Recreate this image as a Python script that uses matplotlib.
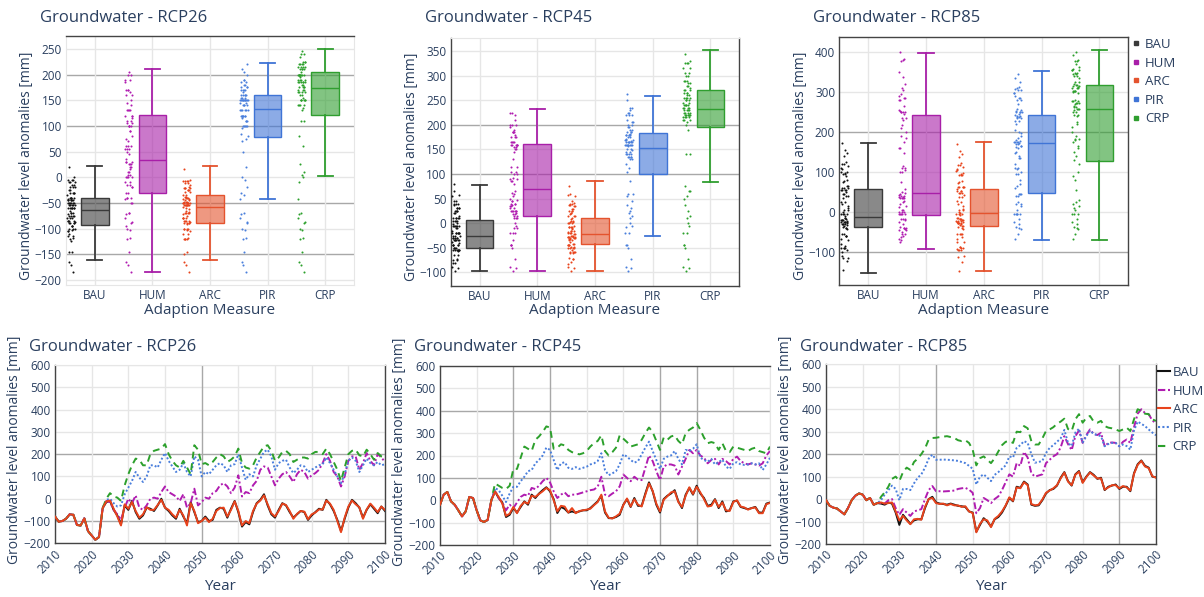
import numpy as np
import matplotlib
matplotlib.use('Agg')
import matplotlib.pyplot as plt
from matplotlib.lines import Line2D

plt.rcParams['font.family'] = ['Open Sans', 'DejaVu Sans']

# ----- data -----
YEARS = np.arange(2010, 2101)
MEASURES = ['BAU', 'HUM', 'ARC', 'PIR', 'CRP']

# 2010-2023, identical for every measure
COMMON26 = [-80, -103, -100, -90, -70, -72, -118, -120, -88, -145, -165, -184, -172, -42]
COMMON45 = [-20, 25, 37, -5, -20, -45, -72, -50, 15, 10, -45, -90, -97, -88]
COMMON85 = [-5, -30, -38, -42, -55, -68, -40, -5, 15, 25, 20, -5, 5, -25]

# 2024-2100
BAU26 = [-15, -10, -50, -75, -115, -30, -50, -10, -60, -90,
         -75, -40, -45, -55, -30, 0, -40, -55, -75, -90,
         -45, -80, -110, -15, -60, -105, -100, -80, -100, -95,
         -50, -40, -45, -85, -45, -10, -60, -125, -105, -115,
         -60, -20, -5, 20, -30, -70, -85, -50, -20, -30,
         -60, -85, -70, -55, -60, -95, -75, -60, -45, -50,
         -5, -25, -55, -95, -145, -90, -40, -5, -20, -40,
         -85, -50, -25, -45, -65, -35, -55]
ARC26 = [-12, -8, -45, -80, -120, -25, -45, -15, -55, -85,
         -70, -38, -50, -50, -28, -5, -40, -50, -70, -85,
         -50, -75, -120, -20, -55, -110, -100, -85, -105, -90,
         -55, -42, -40, -80, -50, -12, -55, -120, -100, -110,
         -55, -22, -8, 15, -25, -65, -80, -55, -22, -28,
         -55, -90, -68, -55, -58, -92, -70, -62, -48, -48,
         -8, -22, -50, -100, -150, -85, -35, -8, -25, -38,
         -90, -48, -22, -40, -60, -35, -50]
HUM26 = [-10, -15, -50, -70, -95, -40, 0, -20, 15, -40,
         -50, -30, 0, 5, 0, 30, 55, 30, 20, 10,
         -10, 20, -40, -20, 45, -30, -15, 5, 0, 25,
         35, 60, 70, 55, 25, 50, 105, 10, 30, 25,
         60, 80, 130, 145, 140, 100, 60, 90, 110, 120,
         100, 75, 110, 130, 120, 90, 105, 115, 130, 160,
         200, 170, 120, 100, 55, 100, 170, 190, 190, 130,
         160, 205, 170, 150, 200, 185, 165]
PIR26 = [-5, 0, -20, -35, -30, 20, 50, 80, 120, 95,
         75, 100, 150, 150, 140, 175, 205, 170, 145, 120,
         130, 160, 120, 100, 190, 175, 100, 120, 110, 130,
         150, 160, 150, 120, 150, 155, 200, 140, 85, 110,
         100, 150, 180, 210, 220, 190, 130, 160, 170, 175,
         140, 115, 130, 150, 145, 120, 130, 140, 150, 155,
         185, 160, 130, 100, 70, 110, 170, 185, 170, 120,
         150, 180, 160, 150, 165, 150, 155]
CRP26 = [0, 25, 10, 5, -10, 60, 110, 150, 180, 175,
         150, 150, 200, 215, 220, 225, 245, 200, 170, 150,
         140, 170, 140, 110, 240, 220, 155, 160, 150, 165,
         185, 200, 190, 165, 175, 190, 225, 160, 140, 135,
         150, 185, 210, 235, 240, 215, 170, 185, 210, 215,
         200, 165, 175, 185, 185, 180, 200, 210, 210, 200,
         225, 200, 165, 130, 80, 140, 200, 215, 220, 195,
         190, 220, 200, 175, 205, 190, 185]

BAU45 = [0, 40, 10, -10, -75, -65, -35, -55, -30, -5,
         -20, 25, 10, 30, 45, 58, 40, 5, -57, -30,
         -38, -55, -50, -55, -50, -45, -45, -35, -20, -5,
         20, -55, -80, -80, -75, -65, -20, 5, -30, 10,
         -25, -25, 30, 80, 40, -20, -55, 5, 20, 30,
         45, -5, -35, 25, 55, 25, 65, 30, 10, -25,
         -20, 5, -35, -5, -50, -45, -5, -2, -30, -35,
         -40, -35, -30, -55, -55, -15, -10]
ARC45 = [0, 38, 15, -15, -70, -60, -30, -58, -25, -8,
         -15, 20, 15, 28, 40, 55, 45, 0, -50, -25,
         -28, -55, -35, -58, -48, -45, -42, -38, -22, -8,
         25, -50, -78, -82, -72, -60, -22, 8, -28, 5,
         -20, -28, 25, 75, 42, -15, -50, 2, 18, 35,
         40, -8, -30, 20, 58, 28, 60, 35, 5, -28,
         -25, 2, -30, -10, -45, -48, -8, 0, -28, -32,
         -42, -35, -32, -58, -58, -18, -12]
HUM45 = [0, 45, 10, -10, -45, -20, -35, -10, 15, 25,
         20, 55, 50, 65, 85, 100, 80, 40, 10, 25,
         35, 18, 25, 25, 30, 35, 40, 45, 48, 60,
         105, 25, 18, 30, 40, 62, 115, 100, 85, 105,
         92, 90, 145, 200, 175, 130, 90, 150, 160, 160,
         155, 115, 150, 185, 225, 210, 225, 200, 190, 165,
         180, 185, 160, 185, 175, 160, 185, 195, 175, 165,
         160, 165, 160, 155, 165, 200, 220]
PIR45 = [0, 55, 45, 20, -8, 30, 60, 60, 85, 105,
         130, 135, 165, 180, 200, 235, 225, 180, 135, 165,
         170, 145, 140, 148, 140, 145, 150, 160, 165, 175,
         210, 135, 112, 120, 130, 160, 205, 195, 180, 168,
         175, 205, 235, 262, 220, 180, 140, 185, 195, 200,
         220, 185, 160, 225, 220, 230, 250, 190, 180, 172,
         185, 160, 170, 182, 150, 140, 165, 170, 160, 158,
         160, 165, 160, 165, 135, 160, 190]
CRP45 = [0, 75, 65, 55, 50, 65, 140, 140, 190, 240,
         230, 220, 270, 285, 305, 330, 325, 230, 235, 250,
         245, 225, 215, 210, 205, 210, 220, 240, 255, 265,
         290, 220, 200, 215, 235, 290, 275, 260, 240, 245,
         250, 270, 300, 325, 305, 265, 225, 280, 270, 285,
         290, 265, 250, 300, 315, 325, 345, 315, 280, 255,
         260, 255, 225, 255, 220, 215, 240, 235, 230, 225,
         220, 230, 235, 220, 215, 210, 240]

BAU85 = [-18, -20, -25, -15, -20, -60, -115, -70, -90, -110,
         -95, -90, -90, -40, 0, 10, -15, -20, -22, -25,
         -20, -25, -30, -32, -35, -55, -60, -145, -115, -85,
         -100, -122, -90, -80, -60, -30, 5, -10, 55, 50,
         78, 65, -25, -30, -28, -5, 25, 40, 45, 60,
         95, 120, 80, 60, 110, 125, 75, 100, 120, 108,
         90, 95, 40, 55, 60, 65, 45, 55, 55, 35,
         115, 155, 172, 148, 140, 100, 97]
ARC85 = [-18, -15, -20, -18, -15, -55, -95, -75, -95, -112,
         -90, -88, -92, -35, 0, 5, -18, -22, -20, -28,
         -22, -28, -28, -35, -32, -55, -62, -148, -110, -90,
         -95, -125, -88, -75, -55, -28, 8, -8, 52, 48,
         75, 62, -22, -28, -25, -2, 28, 38, 48, 62,
         92, 118, 78, 62, 108, 122, 72, 98, 118, 105,
         92, 92, 42, 52, 62, 62, 48, 58, 52, 38,
         112, 152, 170, 145, 138, 102, 95]
HUM85 = [-18, -18, -20, -5, 0, -40, -70, -45, -60, -75,
         -55, -50, -45, 0, 40, 58, 35, 35, 34, 35,
         36, 38, 45, 48, 50, 42, 28, -63, -40, 5,
         -5, -18, 0, 12, 40, 75, 110, 100, 160, 148,
         210, 185, 115, 100, 105, 110, 160, 175, 190, 200,
         230, 280, 245, 218, 280, 305, 250, 285, 310, 290,
         285, 295, 235, 250, 252, 250, 235, 255, 265, 250,
         320, 380, 400, 383, 378, 350, 337]
PIR85 = [-18, -5, 20, 40, 60, 45, -5, 45, 45, 40,
         70, 95, 110, 140, 180, 198, 175, 175, 176, 175,
         174, 172, 170, 165, 160, 148, 135, 65, 100, 110,
         95, 80, 108, 120, 135, 150, 190, 185, 228, 240,
         258, 250, 200, 162, 165, 170, 205, 228, 240, 255,
         270, 308, 250, 236, 296, 313, 252, 280, 305, 290,
         285, 280, 235, 245, 250, 250, 235, 243, 236, 220,
         305, 345, 335, 325, 310, 296, 284]
CRP85 = [-18, 10, 30, 55, 90, 100, 80, 120, 140, 130,
         165, 180, 200, 225, 265, 272, 273, 276, 278, 280,
         276, 272, 262, 258, 262, 250, 220, 150, 182, 190,
         175, 160, 182, 212, 240, 255, 258, 250, 300, 298,
         325, 315, 258, 243, 243, 270, 303, 310, 320, 335,
         345, 358, 312, 303, 355, 378, 340, 362, 370, 345,
         340, 348, 325, 318, 315, 310, 303, 310, 318, 303,
         355, 400, 393, 380, 378, 355, 348]

# box statistics per measure (BAU, HUM, ARC, PIR, CRP)
BOX26_LO = [-162, -185, -162, -42, 2]
BOX26_Q1 = [-93, -31, -89, 79, 121]
BOX26_MED = [-64, 33, -59, 132, 174]
BOX26_Q3 = [-40, 122, -35, 161, 205]
BOX26_HI = [22, 210, 22, 223, 249]

BOX45_LO = [-97, -97, -97, -25, 83]
BOX45_Q1 = [-50, 15, -42, 101, 195]
BOX45_MED = [-25, 70, -22, 153, 232]
BOX45_Q3 = [7, 162, 11, 184, 270]
BOX45_HI = [78, 233, 86, 259, 352]

BOX85_LO = [-152, -94, -148, -71, -71]
BOX85_Q1 = [-37, -7, -35, 48, 128]
BOX85_MED = [-14, 48, -4, 171, 258]
BOX85_Q3 = [58, 242, 58, 243, 316]
BOX85_HI = [172, 398, 175, 351, 405]

SCEN = [
    ('RCP26', COMMON26, [BAU26, HUM26, ARC26, PIR26, CRP26],
     (BOX26_LO, BOX26_Q1, BOX26_MED, BOX26_Q3, BOX26_HI)),
    ('RCP45', COMMON45, [BAU45, HUM45, ARC45, PIR45, CRP45],
     (BOX45_LO, BOX45_Q1, BOX45_MED, BOX45_Q3, BOX45_HI)),
    ('RCP85', COMMON85, [BAU85, HUM85, ARC85, PIR85, CRP85],
     (BOX85_LO, BOX85_Q1, BOX85_MED, BOX85_Q3, BOX85_HI)),
]

# ----- style -----
TXT = '#2a3f5f'
LINE_COLORS = ['#111111', '#b01cb0', '#e8431c', '#4a7fdc', '#2ca02c']
BOX_COLORS = ['#3a3a3a', '#a81fa8', '#e4532e', '#3f74d6', '#2f9e2f']
LINE_STYLES = ['-', (0, (3.5, 1.3, 1, 1.3)), '-', (0, (1, 1.1)), (0, (3.5, 2.5))]
LIGHT, DARK = '#e6e6e6', '#a8a8a8'

W, H = 1204, 597
fig = plt.figure(figsize=(W / 100, H / 100), dpi=100)

TOP_POS = [(66, 36, 354, 285), (450.7, 38.3, 739.3, 285.7), (839.3, 37.3, 1128.3, 285)]
BOT_POS = [(55, 365, 385, 543.3), (440, 366, 770, 545), (826, 364.3, 1156, 544)]
TOP_YLIM = [(-210, 275), (-127, 376), (-183, 436)]
TOP_YTICKS = [np.arange(-200, 251, 50), np.arange(-100, 351, 50), np.arange(-100, 401, 100)]
TOP_DARK = [[200, 100, -50, -150], [200, 100], [200, -100]]
TOP_SPINES = [['top'], ['left', 'bottom', 'right'], ['left', 'bottom', 'right', 'top']]
BOT_DARK_H = [[200, -100], [100, 400], [200]]
BOT_DARK_V = [[2050], [2030, 2040, 2070, 2080], [2040, 2090]]
BOT_SPINES = [['left', 'bottom', 'right'], ['left', 'bottom', 'top'], ['left', 'bottom', 'right']]

JIT = ((np.arange(len(YEARS)) * 0.6180339887) % 1.0 - 0.5) * 0.13


def add_ax(p):
    x0, y0, x1, y1 = p
    return fig.add_axes([x0 / W, 1 - y1 / H, (x1 - x0) / W, (y1 - y0) / H])


def style_spines(ax, dark_sides):
    for side, sp in ax.spines.items():
        if side in dark_sides:
            sp.set_color('#444444')
            sp.set_linewidth(1.0)
        else:
            sp.set_color(LIGHT)
            sp.set_linewidth(0.8)


def minus(v):
    return str(int(v)).replace('-', '\u2212')


for k, (name, common, series, box) in enumerate(SCEN):
    # ==================== top: box plots ====================
    ax = add_ax(TOP_POS[k])
    ax.set_xlim(-0.5, 4.5)
    ax.set_ylim(*TOP_YLIM[k])
    for v in TOP_YTICKS[k]:
        ax.axhline(v, color=DARK if v in TOP_DARK[k] else LIGHT, lw=1.0, zorder=0)
    for i in range(5):
        ax.axvline(i, color=LIGHT, lw=1.0, zorder=0)

    lo, q1, med, q3, hi = box
    stats = [dict(whislo=lo[i], q1=q1[i], med=med[i], q3=q3[i], whishi=hi[i], fliers=[])
             for i in range(5)]
    bp = ax.bxp(stats, positions=np.arange(5), widths=0.48, capwidths=0.26,
                patch_artist=True, showfliers=False, manage_ticks=False)
    for i in range(5):
        c = BOX_COLORS[i]
        bp['boxes'][i].set(facecolor=matplotlib.colors.to_rgba(c, 0.6), edgecolor=c, lw=1.0)
        bp['medians'][i].set(color=c, lw=1.0)
        for w in bp['whiskers'][2 * i:2 * i + 2]:
            w.set(color=c, lw=1.3)
        for cp in bp['caps'][2 * i:2 * i + 2]:
            cp.set(color=c, lw=1.3)
        vals = np.array(common + series[i])
        ax.scatter(i - 0.41 + JIT, vals, s=2.2, color=LINE_COLORS[i], lw=0, zorder=3)

    ax.set_xticks(np.arange(5))
    ax.set_xticklabels(MEASURES)
    ax.set_yticks(TOP_YTICKS[k])
    ax.set_yticklabels([minus(v) for v in TOP_YTICKS[k]])
    ax.tick_params(length=0, labelsize=8.5, labelcolor=TXT, pad=3)
    style_spines(ax, TOP_SPINES[k])

    x0, y0, x1, y1 = TOP_POS[k]
    fig.text((x0 - 26) / W, 1 - 18 / H, f'Groundwater - {name}', fontsize=12,
             color=TXT, ha='left', va='center')
    fig.text((x0 - 39) / W, 1 - ((y0 + y1) / 2 + 5) / H, 'Groundwater level anomalies [mm]',
             fontsize=10, color=TXT, rotation=90, ha='center', va='center')
    fig.text((x0 + x1) / 2 / W, 1 - 310 / H, 'Adaption Measure', fontsize=11,
             color=TXT, ha='center', va='center')

    # ==================== bottom: time series ====================
    ax = add_ax(BOT_POS[k])
    ax.set_xlim(2010, 2100)
    ax.set_ylim(-200, 600)
    for v in range(-200, 601, 100):
        ax.axhline(v, color=DARK if v in BOT_DARK_H[k] else LIGHT, lw=1.0, zorder=0)
    for yr in range(2010, 2101, 10):
        ax.axvline(yr, color=DARK if yr in BOT_DARK_V[k] else LIGHT, lw=1.0, zorder=0)
    for i in range(5):
        vals = np.array(common + series[i])
        ax.plot(YEARS, vals, color=LINE_COLORS[i], ls=LINE_STYLES[i], lw=1.4,
                label=MEASURES[i], zorder=2 + (i == 2))
    ax.set_xticks(range(2010, 2101, 10))
    ax.set_yticks(range(-200, 601, 100))
    ax.set_yticklabels([minus(v) for v in range(-200, 601, 100)])
    ax.tick_params(length=0, labelsize=8.5, labelcolor=TXT, pad=3)
    for lab in ax.get_xticklabels():
        lab.set_rotation(45)
        lab.set_ha('right')
        lab.set_va('top')
        lab.set_rotation_mode('anchor')
    style_spines(ax, BOT_SPINES[k])

    x0, y0, x1, y1 = BOT_POS[k]
    fig.text((x0 - 26) / W, 1 - 347 / H, f'Groundwater - {name}', fontsize=12,
             color=TXT, ha='left', va='center')
    fig.text((x0 - 40) / W, 1 - ((y0 + y1) / 2 - 4) / H, 'Groundwater level anomalies [mm]',
             fontsize=10, color=TXT, rotation=90, ha='center', va='center')
    fig.text((x0 + x1) / 2 / W, 1 - 587 / H, 'Year', fontsize=11,
             color=TXT, ha='center', va='center')

# legends
box_handles = [Line2D([], [], ls='none', marker='s', ms=3, color=c) for c in BOX_COLORS]
fig.legend(box_handles, MEASURES, loc='upper left', bbox_to_anchor=(1133 / W, 1 - 38 / H),
           frameon=False, handlelength=0.5, handletextpad=0.4, labelspacing=0.42,
           borderpad=0, borderaxespad=0, fontsize=9.5, labelcolor=TXT)
line_handles = [Line2D([], [], color=LINE_COLORS[i], ls=LINE_STYLES[i], lw=1.5) for i in range(5)]
fig.legend(line_handles, MEASURES, loc='upper left', bbox_to_anchor=(1158 / W, 1 - 366 / H),
           frameon=False, handlelength=0.9, handletextpad=0.2, labelspacing=0.42,
           borderpad=0, borderaxespad=0, fontsize=9.5, labelcolor=TXT)

fig.savefig('out.png', dpi=100)
